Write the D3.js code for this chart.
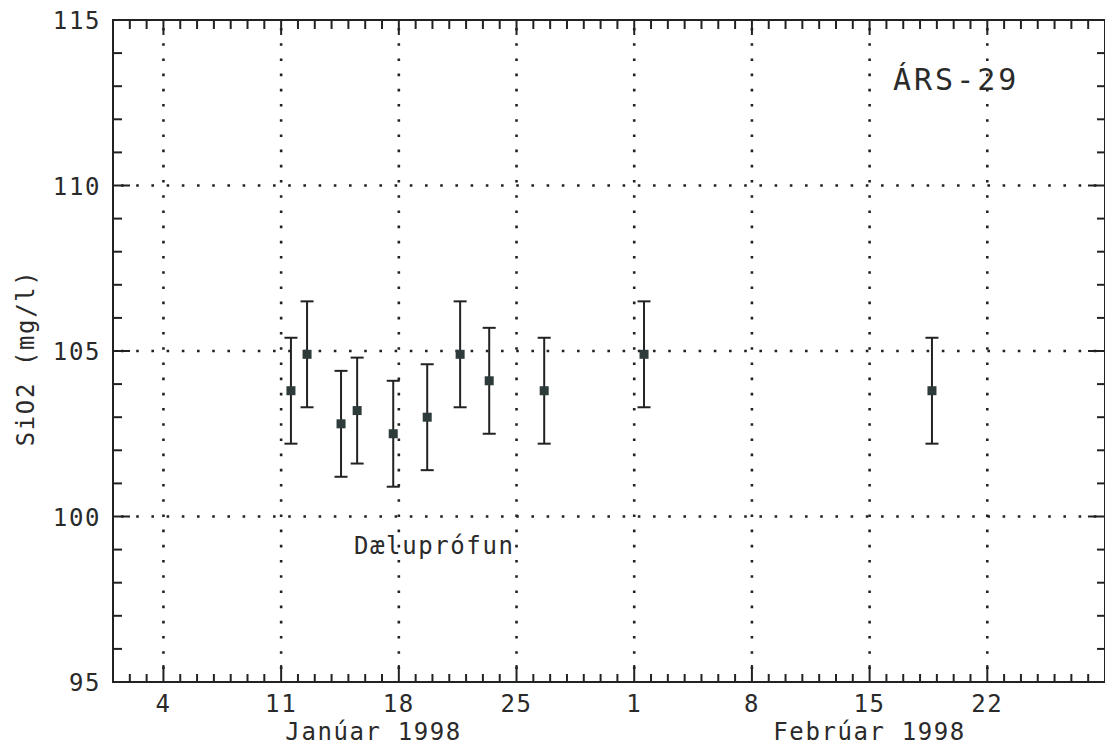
<!DOCTYPE html>
<html>
<head>
<meta charset="utf-8">
<script src="https://cdn.jsdelivr.net/npm/d3@7/dist/d3.min.js"></script>
<style>
  html, body { margin: 0; padding: 0; background: #fff; }
  svg { display: block; }
  text { font-family: "DejaVu Sans Mono", monospace; fill: #2a2a2a; }
</style>
</head>
<body>
<svg id="chart" width="1105" height="747"></svg>
<script>
// ---- data ----
const sampleTimes = [
  "1998-01-11T14:00", "1998-01-12T13:00", "1998-01-14T13:30", "1998-01-15T12:30",
  "1998-01-17T16:00", "1998-01-19T16:30", "1998-01-21T15:30", "1998-01-23T09:00",
  "1998-01-26T15:30", "1998-02-01T14:00", "1998-02-18T17:00"
];
const sio2Values = [103.8, 104.9, 102.8, 103.2, 102.5, 103.0, 104.9, 104.1, 103.8, 104.9, 103.8];
const sio2Error = [1.6, 1.6, 1.6, 1.6, 1.6, 1.6, 1.6, 1.6, 1.6, 1.6, 1.6];
const yTickValues = [95, 100, 105, 110, 115];
const xTickDates = ["1998-01-04", "1998-01-11", "1998-01-18", "1998-01-25",
                    "1998-02-01", "1998-02-08", "1998-02-15", "1998-02-22"];
const monthLabels = ["Janúar 1998", "Febrúar 1998"];
const monthLabelDates = ["1998-01-16T12:00", "1998-02-15T00:00"];
const yLabel = "SiO2 (mg/l)";
const wellName = "ÁRS-29";
const noteText = "Dæluprófun";

// ---- layout ----
const parse = d3.isoParse;
const svg = d3.select("#chart");
const L = 113, R = 1105, T = 20, B = 682;
const x = d3.scaleTime().domain([parse("1998-01-01"), parse("1998-03-01")]).range([L, R]);
const y = d3.scaleLinear().domain([95, 115]).range([B, T]);
const ink = "#222";

const data = sampleTimes.map((t, i) => ({ t: parse(t), v: sio2Values[i], e: sio2Error[i] }));
const majorX = xTickDates.map(parse);
const dayTicks = d3.timeDay.range(parse("1998-01-02"), parse("1998-03-01"));

// grid (dotted)
const grid = svg.append("g").attr("stroke", ink).attr("stroke-width", 2.6)
  .attr("stroke-dasharray", "2.6,12.6").attr("fill", "none");
grid.selectAll("line.vg").data(majorX).join("line")
  .attr("x1", d => x(d)).attr("x2", d => x(d)).attr("y1", T + 8).attr("y2", B);
grid.selectAll("line.hg").data([100, 105, 110]).join("line")
  .attr("x1", L + 8).attr("x2", R).attr("y1", d => y(d)).attr("y2", d => y(d));

// frame
const ax = svg.append("g").attr("stroke", ink).attr("stroke-width", 2).attr("fill", "none");
ax.append("rect").attr("x", L).attr("y", T).attr("width", R - L).attr("height", B - T);

// x ticks (bottom up, top down)
const isMajorX = d => majorX.some(m => +m === +d);
ax.selectAll("line.xb").data(dayTicks).join("line")
  .attr("x1", d => x(d)).attr("x2", d => x(d))
  .attr("y1", B).attr("y2", d => B - (isMajorX(d) ? 17 : 8));
ax.selectAll("line.xt").data(dayTicks).join("line")
  .attr("x1", d => x(d)).attr("x2", d => x(d))
  .attr("y1", T).attr("y2", d => T + (isMajorX(d) ? 15 : 9));

// y ticks (left and right, inward)
const yAll = d3.range(96, 115, 1);
ax.selectAll("line.yl").data(yAll).join("line")
  .attr("y1", d => y(d)).attr("y2", d => y(d))
  .attr("x1", L).attr("x2", d => L + (d % 5 === 0 ? 17 : 9));
ax.selectAll("line.yr").data(yAll).join("line")
  .attr("y1", d => y(d)).attr("y2", d => y(d))
  .attr("x1", R).attr("x2", d => R - (d % 5 === 0 ? 17 : 8));

// tick labels
svg.selectAll("text.yt").data(yTickValues).join("text")
  .attr("x", 101).attr("y", d => y(d) + 9)
  .attr("text-anchor", "end").attr("font-size", 24).attr("letter-spacing", 1.6)
  .text(d => d);
svg.selectAll("text.xt").data(majorX).join("text")
  .attr("x", d => x(d)).attr("y", 712)
  .attr("text-anchor", "middle").attr("font-size", 24).attr("letter-spacing", 1.6)
  .text(d => d.getDate());
svg.selectAll("text.mo").data(monthLabels).join("text")
  .attr("x", (d, i) => x(parse(monthLabelDates[i]))).attr("y", 740)
  .attr("text-anchor", "middle").attr("font-size", 24).attr("letter-spacing", 1.6)
  .text(d => d);

// y axis label
svg.append("text")
  .attr("transform", "translate(34,358) rotate(-90)")
  .attr("text-anchor", "middle").attr("font-size", 24).attr("letter-spacing", 1.6)
  .text(yLabel);

// annotations
svg.append("text").attr("x", 893).attr("y", 90)
  .attr("font-size", 30).attr("letter-spacing", 3).text(wellName);
svg.append("text").attr("x", 354).attr("y", 554)
  .attr("font-size", 24).attr("letter-spacing", 1.6).text(noteText);

// error bars
const eb = svg.append("g").attr("stroke", ink).attr("stroke-width", 2).attr("fill", "none");
eb.selectAll("line.stem").data(data).join("line")
  .attr("x1", d => x(d.t)).attr("x2", d => x(d.t))
  .attr("y1", d => y(d.v + d.e)).attr("y2", d => y(d.v - d.e));
eb.selectAll("line.capT").data(data).join("line")
  .attr("x1", d => x(d.t) - 6.5).attr("x2", d => x(d.t) + 6.5)
  .attr("y1", d => y(d.v + d.e)).attr("y2", d => y(d.v + d.e));
eb.selectAll("line.capB").data(data).join("line")
  .attr("x1", d => x(d.t) - 6.5).attr("x2", d => x(d.t) + 6.5)
  .attr("y1", d => y(d.v - d.e)).attr("y2", d => y(d.v - d.e));

// markers
svg.append("g").selectAll("rect").data(data).join("rect")
  .attr("x", d => x(d.t) - 4.5).attr("y", d => y(d.v) - 4.5)
  .attr("width", 9).attr("height", 9).attr("fill", "#2e3b3b");
</script>
</body>
</html>
